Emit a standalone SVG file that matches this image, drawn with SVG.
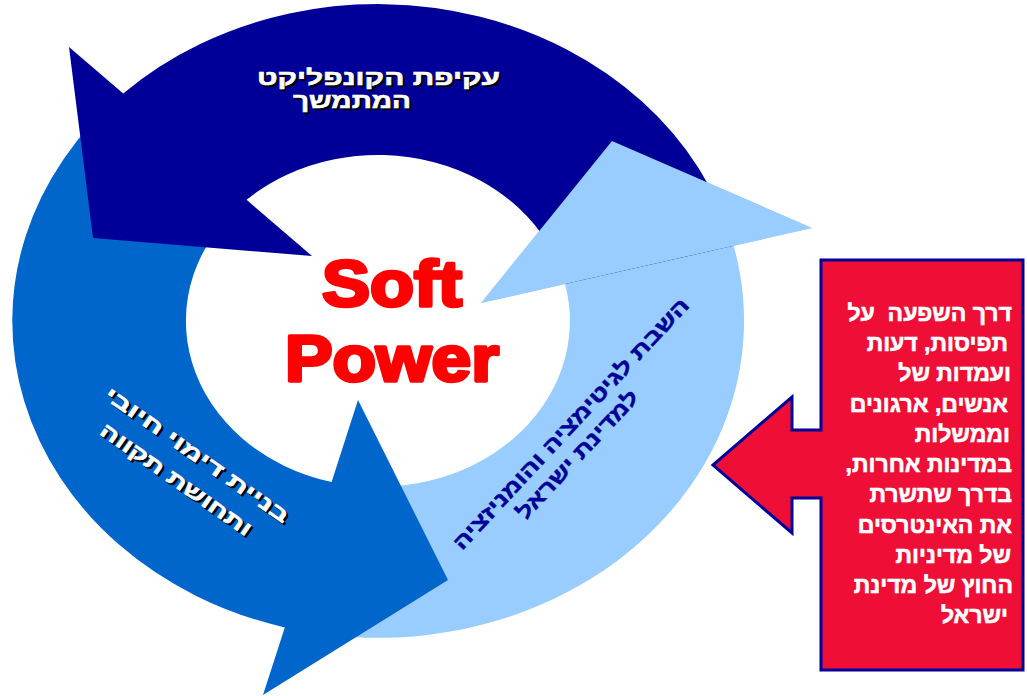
<svg xmlns="http://www.w3.org/2000/svg" width="1027" height="696" viewBox="0 0 1027 696">
<style>
.he{font-family:"Liberation Sans","DejaVu Sans",sans-serif;direction:rtl}
.wb{font-weight:bold;fill:#FFFFFF;stroke:#FFFFFF;stroke-width:0.6}
.sh{font-weight:bold;fill:#000000;stroke:#000000;stroke-width:0.6}
.nv{fill:#000099;font-weight:bold;stroke:#000099;stroke-width:0.5}
.sp{font-family:"Liberation Sans",Arial,sans-serif;font-weight:bold;fill:#FF0000;stroke:#FF0000;stroke-width:3.5;stroke-linejoin:round}
</style>
<rect width="1027" height="696" fill="#FFFFFF"/>
<g id="cycle-arrows">
  <path id="arrow-light-body" fill="#99CCFF" d="M284.8,627.4 A366,317 0 0 0 733.6,245.8 L812,228 L612,141 L481,303 L565.1,284 A192,166 0 0 1 331.6,482 Z"/>
  <path id="arrow-medium" fill="#0066CC" d="M123.2,93.6 A366,317 0 0 0 284.8,627.4 L263,695 L448,580 L358,400 L331.6,482 A192,166 0 0 1 246.6,199.8 Z"/>
  <path id="arrow-dark" fill="#000099" d="M123.2,93.6 A366,317 0 0 1 733.6,245.8 L565.1,284 A192,166 0 0 0 246.6,199.8 L312,256 L93,238 L69,47 Z"/>
  <polygon id="arrow-light-head" fill="#99CCFF" points="481,303 612,141 812,228"/>
</g>
<g id="node-conflict">
  <text class="he sh" font-size="21" x="380.5" y="87" text-anchor="middle" textLength="243" lengthAdjust="spacingAndGlyphs">עקיפת הקונפליקט</text>
  <text class="he wb" font-size="21" x="378.5" y="85" text-anchor="middle" textLength="243" lengthAdjust="spacingAndGlyphs">עקיפת הקונפליקט</text>
  <text class="he sh" font-size="21" x="354" y="110" text-anchor="middle" textLength="118" lengthAdjust="spacingAndGlyphs">המתמשך</text>
  <text class="he wb" font-size="21" x="352" y="108" text-anchor="middle" textLength="118" lengthAdjust="spacingAndGlyphs">המתמשך</text>
</g>
<g id="node-image">
  <g transform="translate(199,457) rotate(35)">
    <text class="he sh" font-size="20" x="0" y="7" text-anchor="middle" textLength="220" lengthAdjust="spacingAndGlyphs">בניית דימוי חיובי</text>
    <text class="he sh" font-size="20" x="-3" y="39" text-anchor="middle" textLength="180" lengthAdjust="spacingAndGlyphs">ותחושת תקווה</text>
  </g>
  <g transform="translate(197,455) rotate(35)">
    <text class="he wb" font-size="20" x="0" y="7" text-anchor="middle" textLength="220" lengthAdjust="spacingAndGlyphs">בניית דימוי חיובי</text>
    <text class="he wb" font-size="20" x="-3" y="39" text-anchor="middle" textLength="180" lengthAdjust="spacingAndGlyphs">ותחושת תקווה</text>
  </g>
</g>
<g id="node-legitimacy">
  <g transform="translate(571,424) rotate(-47)">
    <text class="he nv" font-size="21" x="0" y="7" text-anchor="middle" textLength="335" lengthAdjust="spacingAndGlyphs">השבת לגיטימציה והומניזציה</text>
    <text class="he nv" font-size="21" x="-18" y="33" text-anchor="middle" textLength="168" lengthAdjust="spacingAndGlyphs">למדינת ישראל</text>
  </g>
</g>
<g id="node-center">
  <text class="sp" font-size="64" x="392" y="306" text-anchor="middle" textLength="140" lengthAdjust="spacingAndGlyphs">Soft</text>
  <text class="sp" font-size="64" x="392" y="381" text-anchor="middle" textLength="214" lengthAdjust="spacingAndGlyphs">Power</text>
</g>
<g id="node-callout">
  <path fill="#EF0F36" stroke="#000099" stroke-width="3" stroke-linejoin="miter" d="M821,260 H1023 V670 H821 V498 H792 V533 L713,465 L792,397 V430 H821 Z"/>
  <g class="he wb" font-size="23" text-anchor="start">
    <text x="1012" y="321">דרך השפעה&#160;&#160;על</text>
    <text x="1008" y="351">תפיסות, דעות</text>
    <text x="1011" y="381">ועמדות של</text>
    <text x="1008" y="412">אנשים, ארגונים</text>
    <text x="1010" y="442">וממשלות</text>
    <text x="1012" y="472">במדינות אחרות,</text>
    <text x="1012" y="502">בדרך שתשרת</text>
    <text x="1012" y="533">את האינטרסים</text>
    <text x="1011" y="563">של מדיניות</text>
    <text x="1013" y="593">החוץ של מדינת</text>
    <text x="1008" y="623">ישראל</text>
  </g>
</g>
</svg>
